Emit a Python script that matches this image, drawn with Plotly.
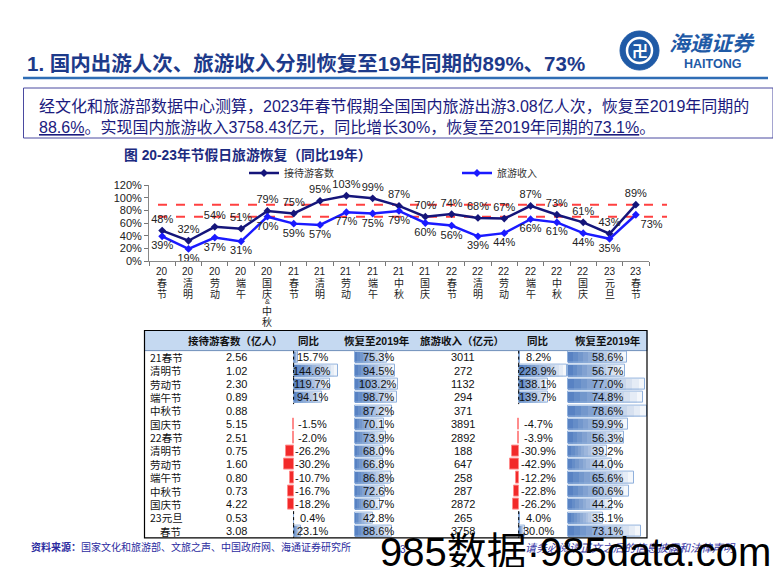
import plotly.graph_objects as go

W, H = 781, 567
def px(x): return x / W
def py(y): return 1 - y / H

# ---------------- data: line chart ----------------
holidays = ["20春节", "20清明", "20劳动", "20端午", "20国庆&中秋", "21春节", "21清明", "21劳动",
            "21端午", "21中秋", "21国庆", "22春节", "22清明", "22劳动", "22端午", "22中秋",
            "22国庆", "23元旦", "23春节"]
visitors_pct = [48, 32, 54, 51, 79, 75, 95, 103, 99, 87, 70, 74, 68, 67, 87, 73, 61, 43, 89]
income_pct = [39, 19, 37, 31, 70, 59, 57, 77, 75, 79, 60, 56, 39, 44, 66, 61, 44, 35, 73]
ref_lines = [89, 70]
y_ticks = [0, 20, 40, 60, 80, 100, 120]

# ---------------- data: table ----------------
row_labels = ["21春节", "清明节", "劳动节", "端午节", "中秋节", "国庆节", "22春节", "清明节", "劳动节",
              "端午节", "中秋节", "国庆节", "23元旦", "春节"]
visitors_100m = [2.56, 1.02, 2.30, 0.89, 0.88, 5.15, 2.51, 0.75, 1.60, 0.80, 0.73, 4.22, 0.53, 3.08]
visitors_yoy = [15.7, 144.6, 119.7, 94.1, None, -1.5, -2.0, -26.2, -30.2, -10.7, -16.7, -18.2, 0.4, 23.1]
visitors_rec = [75.3, 94.5, 103.2, 98.7, 87.2, 70.1, 73.9, 68.0, 66.8, 86.8, 72.6, 60.7, 42.8, 88.6]
income_100m = [3011, 272, 1132, 294, 371, 3891, 2892, 188, 647, 258, 287, 2872, 265, 3758]
income_yoy = [8.2, 228.9, 138.1, 139.7, None, -4.7, -3.9, -30.9, -42.9, -12.2, -22.8, -26.2, 4.0, 30.0]
income_rec = [58.6, 56.7, 77.0, 74.8, 78.6, 59.9, 56.3, 39.2, 44.0, 65.6, 60.6, 44.2, 35.1, 73.1]
table_headers = ["接待游客数（亿人）", "同比", "恢复至2019年", "旅游收入（亿元）", "同比", "恢复至2019年"]

CJK = "Noto Sans CJK SC"
SANS = "Liberation Sans, Noto Sans CJK SC"
NAVY = "#1b1b7e"

fig = go.Figure()
annotations = []
shapes = []

def ann(text, x, y, size=11, color="#111", family=SANS, xanchor="center", yanchor="middle",
        xref="paper", yref="paper", **kw):
    annotations.append(dict(text=text, x=x, y=y, xref=xref, yref=yref, showarrow=False,
                            xanchor=xanchor, yanchor=yanchor, font=dict(size=size, color=color, family=family), **kw))

# ---------------- line chart ----------------
vis_pos = ["top center"] * len(holidays)
inc_pos = ["bottom center"] * len(holidays)
inc_pos[-1] = "bottom right"

fig.add_trace(go.Scatter(
    x=holidays, y=visitors_pct, name="接待游客数", mode="lines+markers+text",
    text=[f"{v}%" for v in visitors_pct], textposition=vis_pos,
    textfont=dict(family=SANS, size=11, color="#222"),
    line=dict(color="#15157a", width=2.5), marker=dict(symbol="diamond", size=6, color="#15157a"),
    cliponaxis=False, xaxis="x", yaxis="y"))
fig.add_trace(go.Scatter(
    x=holidays, y=income_pct, name="旅游收入", mode="lines+markers+text",
    text=[f"{v}%" for v in income_pct], textposition=inc_pos,
    textfont=dict(family=SANS, size=11, color="#222"),
    line=dict(color="#1a1aff", width=2.5), marker=dict(symbol="diamond", size=6, color="#1a1aff"),
    cliponaxis=False, xaxis="x", yaxis="y"))

for v in ref_lines:
    shapes.append(dict(type="line", xref="paper", yref="y", x0=px(150), x1=px(659), y0=v, y1=v,
                       line=dict(color="#ff4040", width=2, dash="dash"), layer="below"))

# vertical (stacked) category labels, placed on the category axis
for h in holidays:
    segs = [h[:2]] + list(h[2:])
    ypos = 263.0
    prev = None
    for s in segs:
        if prev is not None:
            ypos += 8.5 if (s == "&" or prev == "&") else 11.0
        ann(s, h, py(ypos), size=7.5 if s == "&" else 10, color="#222",
            family=SANS if s[0].isdigit() or s == "&" else CJK, xref="x")
        prev = s

# ---------------- table bars ----------------
def axis_range(zero_px, scale, left_px, right_px):
    return [(left_px - zero_px) / scale, (right_px - zero_px) / scale]

col_axes = {
    "x2": dict(zero=285.6, scale=0.307, left=268, right=346),
    "x3": dict(zero=346.5, scale=0.426, left=346, right=402),
    "x4": dict(zero=510.7, scale=0.21, left=494, right=562),
    "x5": dict(zero=560.0, scale=1.0, left=559, right=639),
}
rows = list(range(len(row_labels)))

def gradient_bars(vals, xa, rgb, n=12, amax=0.92, amin=0.06):
    prevA = 0.0
    for j in range(1, n + 1):
        A = amin + (amax - amin) * (j - 1) / (n - 1)
        a = 1 - (1 - A) / (1 - prevA)
        prevA = A
        frac = (n - j + 1) / n
        xs = [v * frac if (v is not None and v > 0) else None for v in vals]
        fig.add_trace(go.Bar(x=xs, y=rows, orientation="h", width=0.84, base=0,
                             marker=dict(color=f"rgba({rgb},{a:.4f})", line=dict(width=0)),
                             xaxis=xa, yaxis="y2", showlegend=False, hoverinfo="skip"))
    fig.add_trace(go.Bar(x=[v if (v is not None and v > 0) else None for v in vals], y=rows,
                         orientation="h", width=0.84, base=0,
                         marker=dict(color="rgba(0,0,0,0)", line=dict(color="#8fb0dc", width=1)),
                         xaxis=xa, yaxis="y2", showlegend=False, hoverinfo="skip"))

def red_bars(vals, xa):
    xs = [v if (v is not None and v < 0) else None for v in vals]
    fig.add_trace(go.Bar(x=xs, y=rows, orientation="h", width=0.84, base=0,
                         marker=dict(color="#f22a2a", line=dict(color="#ff8c8c", width=1)),
                         xaxis=xa, yaxis="y2", showlegend=False, hoverinfo="skip"))

BLUE = "74,120,190"
gradient_bars(visitors_yoy, "x2", BLUE)
red_bars(visitors_yoy, "x2")
gradient_bars(visitors_rec, "x3", BLUE)
gradient_bars(income_yoy, "x4", BLUE)
red_bars(income_yoy, "x4")
gradient_bars(income_rec, "x5", BLUE)

# dotted data-bar axes in the YoY columns
for vals, xa in ((visitors_yoy, "x2"), (income_yoy, "x4")):
    for i, v in enumerate(vals):
        if v is not None and v >= 0:
            shapes.append(dict(type="line", xref=xa, yref="y2", x0=0, x1=0, y0=i - 0.5, y1=i + 0.5,
                               line=dict(color="#000", width=1, dash="dot")))

# table frame + header
T_L, T_R, T_T, T_HB, T_B = 136.5, 639, 322.5, 342.6, 529.9
shapes.append(dict(type="rect", xref="paper", yref="paper", x0=px(T_L), x1=px(T_R), y0=py(T_HB), y1=py(T_T),
                   fillcolor="#c5d9f1", line=dict(color="#6f8fba", width=1), layer="below"))
shapes.append(dict(type="rect", xref="paper", yref="paper", x0=px(T_L), x1=px(T_R), y0=py(T_B), y1=py(T_T),
                   line=dict(color="#000", width=1.2)))

header_x = [227, 301, 369, 454, 530, 600]
for h, cx in zip(table_headers, header_x):
    ann(f"<b>{h}</b>", px(cx), py((T_T + T_HB) / 2), size=10.5, family=SANS, color="#111")

def fmt_pct(v):
    return "" if v is None else f"{v:.1f}%"

for i in rows:
    lbl = row_labels[i]
    ann(lbl, px(140), i, size=10.5, family=CJK, xanchor="left", yref="y2",
        xshift=10 if i == len(rows) - 1 else 0)
    ann(f"{visitors_100m[i]:.2f}", px(228), i, yref="y2")
    ann(fmt_pct(visitors_yoy[i]), px(304), i, yref="y2")
    ann(fmt_pct(visitors_rec[i]), px(370), i, yref="y2")
    ann(str(income_100m[i]), px(455), i, yref="y2")
    ann(fmt_pct(income_yoy[i]), px(530), i, yref="y2")
    ann(fmt_pct(income_rec[i]), px(599), i, yref="y2")

# ---------------- slide texts ----------------
ann("<b>1. 国内出游人次、旅游收入分别恢复至19年同期的89%、73%</b>", px(17), py(55), size=20.5,
    color="#1d3a8a", xanchor="left")
shapes.append(dict(type="line", xref="paper", yref="paper", x0=px(15), x1=px(760), y0=py(70), y1=py(70),
                   line=dict(color="#2f6db5", width=2.5)))
shapes.append(dict(type="rect", xref="paper", yref="paper", x0=px(15.5), x1=px(765), y0=py(130), y1=py(80),
                   line=dict(color="#4a4aa0", width=1)))
ann("经文化和旅游部数据中心测算，2023年春节假期全国国内旅游出游3.08亿人次，恢复至2019年同期的",
    px(29), py(97.5), size=16, color=NAVY, xanchor="left")
ann('<span style="text-decoration:underline">88.6%</span>。实现国内旅游收入3758.43亿元，同比增长30%，恢复至2019年同期的'
    '<span style="text-decoration:underline">73.1%</span>。',
    px(29), py(119.5), size=16, color=NAVY, xanchor="left")

ann("<b>图 20-23年节假日旅游恢复（同比19年）</b>", px(114), py(147), size=13.8, color="#1b2a80", xanchor="left")

# logo
shapes.append(dict(type="circle", xref="paper", yref="paper", x0=px(612), x1=px(651), y0=py(62), y1=py(23),
                   fillcolor="#1f5aa6", line=dict(color="#1f5aa6", width=1)))
shapes.append(dict(type="circle", xref="paper", yref="paper", x0=px(619), x1=px(644), y0=py(55), y1=py(30),
                   fillcolor="rgba(0,0,0,0)", line=dict(color="white", width=2.5)))
ann("<b>卍</b>", px(631.5), py(42.5), size=16, color="white", family=CJK)
ann("<b><i>海通证券</i></b>", px(704), py(34), size=21, color="#1f5aa6", family=CJK)
ann("<b>HAITONG</b>", px(704), py(56), size=12.5, color="#1f5aa6", family="Liberation Sans")

# footer
ann("<b>资料来源：</b>国家文化和旅游部、文旅之声、中国政府网、海通证券研究所", px(21), py(538.5), size=10,
    color="#2b2ba0", family=CJK, xanchor="left")
ann("3", px(395), py(541), size=10, color="#2b2ba0")
ann("<i>请务必阅读正文之后的信息披露和法律声明</i>", px(515), py(538.5), size=11, color="#3a3aa8",
    family=CJK, xanchor="left")

# watermark
ann("985数据·985data.com", px(567), py(544), size=40, color="#000",
    family="Liberation Sans Narrow, Liberation Sans, Noto Sans CJK SC")

fig.update_layout(
    width=W, height=H, margin=dict(l=0, r=0, t=0, b=0, pad=0),
    paper_bgcolor="white", plot_bgcolor="rgba(0,0,0,0)",
    barmode="overlay", bargap=0,
    showlegend=True,
    legend=dict(orientation="h", x=px(236), y=py(165), xanchor="left", yanchor="middle",
                entrywidth=168, entrywidthmode="pixels", itemwidth=30,
                font=dict(family=CJK, size=10, color="#333"), bgcolor="rgba(0,0,0,0)",
                tracegroupgap=0),
    xaxis=dict(domain=[px(141), px(641)], anchor="y", type="category",
               range=[-0.5, len(holidays) - 0.5], categoryorder="array", categoryarray=holidays,
               tickson="boundaries", showticklabels=False,
               ticks="outside", ticklen=4, tickcolor="#777", showline=True, linecolor="#888", linewidth=1,
               showgrid=False, zeroline=False, automargin=False),
    yaxis=dict(domain=[py(253), py(177)], range=[0, 120], tickmode="array", tickvals=y_ticks,
               ticktext=[f"{t}%" for t in y_ticks],
               ticks="outside", ticklen=4, tickcolor="#777", showline=True, linecolor="#888", linewidth=1,
               tickfont=dict(family="Liberation Sans", size=11, color="#222"),
               showgrid=False, zeroline=False, automargin=False),
    yaxis2=dict(domain=[py(T_B), py(T_HB)], range=[len(rows) - 0.5, -0.5], visible=False,
                anchor="x2", fixedrange=True),
    shapes=shapes, annotations=annotations,
)
for name, spec in col_axes.items():
    fig.layout[name.replace("x", "xaxis")] = dict(
        domain=[px(spec["left"]), px(spec["right"])],
        range=axis_range(spec["zero"], spec["scale"], spec["left"], spec["right"]),
        anchor="y2", visible=False, fixedrange=True)

fig.write_html("out.html")
